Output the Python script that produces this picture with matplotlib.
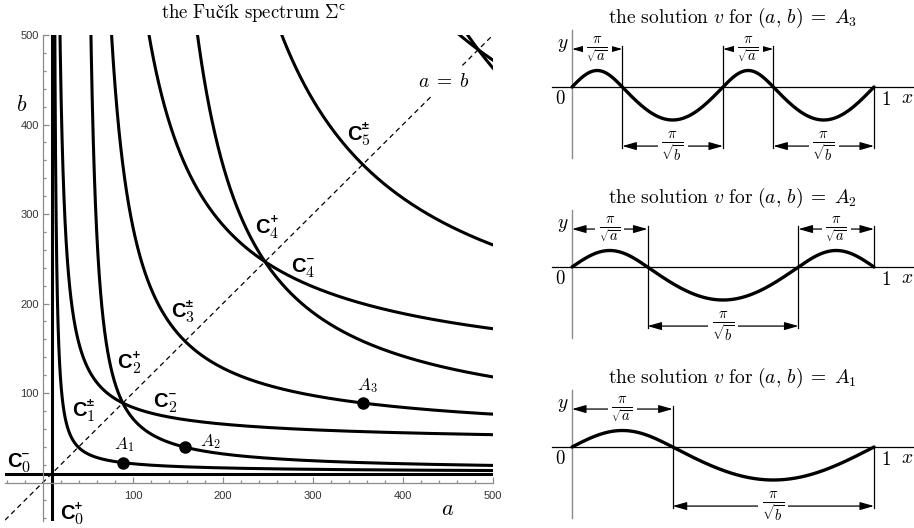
import numpy as np
import matplotlib
matplotlib.use("Agg")
import matplotlib.pyplot as plt
from matplotlib.ticker import FixedLocator

plt.rcParams["mathtext.fontset"] = "cm"

W, H = 914, 528

# Fučík curves  p·π/√a + q·π/√b = 1  (p positive humps, q negative humps)
CURVE_P = [1, 1, 2, 2, 2, 3, 3, 3, 4]
CURVE_Q = [1, 2, 1, 2, 3, 2, 3, 4, 3]
EIG1 = 9.87          # π², the lines C0+ (a = π²) and C0- (b = π²)

# marked points A1..A3 and how many +/- humps their solution has
POINT_NAMES = ["A_1", "A_2", "A_3"]
POINT_A = [88.83, 157.91, 355.31]
POINT_B = [22.21, 39.48, 88.83]
POINT_P = [1, 2, 2]
POINT_Q = [1, 1, 2]

# curve labels C_sub^sup placed at (a, b)
LABEL_SUB = ["0", "0", "1", "2", "2", "3", "4", "4", "5"]
LABEL_SUP = ["\u2212", "+", "\u00b1", "+", "\u2212", "\u00b1", "+", "\u2212", "\u00b1"]
LABEL_A = [-40, 19, 32, 83, 123, 142, 236, 276, 338]
LABEL_B = [17, -41, 74, 128, 84, 185, 279, 235, 383]

X_MAJOR = [100, 200, 300, 400, 500]
Y_MAJOR = [100, 200, 300, 400, 500]


def px_box(x0, y0, x1, y1):
    return [x0 / W, 1 - y1 / H, (x1 - x0) / W, (y1 - y0) / H]


def curve_label(ax, a, b, sub, sup):
    ax.text(a, b, "C", fontsize=14.5, fontweight="bold", family="Liberation Sans",
            ha="left", va="baseline")
    ax.annotate(f"${sub}$", (a, b), xytext=(10.2, -3.5), textcoords="offset points",
                fontsize=11.5, ha="left", va="baseline")
    ax.annotate(sup, (a, b), xytext=(10.2, 7.5), textcoords="offset points",
                fontsize=7.5, fontweight="bold", family="DejaVu Sans",
                ha="left", va="baseline")


fig = plt.figure(figsize=(W / 100, H / 100), dpi=100)

# ---- left: the spectrum ------------------------------------------------------
ax = fig.add_axes(px_box(5, 35, 493, 521))
ax.set_xlim(-42, 500)
ax.set_ylim(-43, 500)
for s in ("top", "right"):
    ax.spines[s].set_visible(False)
for s in ("left", "bottom"):
    ax.spines[s].set_position(("data", 0))
    ax.spines[s].set_color("#8c8c8c")
    ax.spines[s].set_linewidth(0.9)
minor = [v for v in range(-40, 501, 20) if v % 100 != 0]
ax.xaxis.set_major_locator(FixedLocator(X_MAJOR))
ax.yaxis.set_major_locator(FixedLocator(Y_MAJOR))
ax.xaxis.set_minor_locator(FixedLocator(minor))
ax.yaxis.set_minor_locator(FixedLocator(minor))
ax.tick_params(which="both", direction="in", color="#8c8c8c", width=0.9,
               labelsize=8, labelcolor="#333333")
ax.tick_params(which="major", length=4.5)
ax.tick_params(which="minor", length=2.5)
ax.tick_params(axis="x", pad=6)
ax.tick_params(axis="y", pad=3)
for lab in ax.get_xticklabels() + ax.get_yticklabels():
    lab.set_family("Liberation Sans")

ax.axvline(EIG1, color="k", lw=2.2)
ax.axhline(EIG1, color="k", lw=2.2)

lim = 560.0
for p, q in zip(CURVE_P, CURVE_Q):
    t = np.linspace(p * np.pi / np.sqrt(lim), 1 - q * np.pi / np.sqrt(lim), 4000)
    ax.plot((p * np.pi / t) ** 2, (q * np.pi / (1 - t)) ** 2, color="k", lw=2.2,
            solid_capstyle="butt")

# the diagonal a = b, broken around its label
for seg in ((-42, 432), (466, 500)):
    ax.plot(seg, seg, color="k", lw=0.9, ls=(0, (4, 3)))
ax.text(445, 448, r"$a\;=\;b$", fontsize=14, ha="center", va="center")

ax.plot(POINT_A, POINT_B, "o", color="k", ms=8)
offsets = [((1, 6), "center", "bottom"), ((11, 1), "left", "baseline"),
           ((3, 6), "center", "bottom")]
for name, a, b, (off, ha, va) in zip(POINT_NAMES, POINT_A, POINT_B, offsets):
    ax.annotate(f"${name}$", (a, b), xytext=off, textcoords="offset points",
                fontsize=12.5, ha=ha, va=va)

for sub, sup, a, b in zip(LABEL_SUB, LABEL_SUP, LABEL_A, LABEL_B):
    curve_label(ax, a, b, sub, sup)

ax.text(450, -30, "$a$", fontsize=16, ha="center", va="center")
ax.text(-23, 422, "$b$", fontsize=16, ha="center", va="center")

fig.text(254 / W, 1 - 13 / H, r"$\mathrm{the\ Fučík\ spectrum}\ \Sigma^{\mathsf{c}}$",
         fontsize=13.5, ha="center", va="center")

# ---- right: the solutions v for A3, A2, A1 ------------------------------------
X0, X1 = 572, 874           # pixel columns of x = 0 and x = 1
YU = 33.0                   # pixels per unit of the normalised solution
TOP, BOT = 1.15, -1.79      # arrow rows above / below the x axis
axis_rows = [447, 267, 87]  # pixel row of the x axis for A1, A2, A3

for k in range(3):
    a, b = POINT_A[k], POINT_B[k]
    p, q = POINT_P[k], POINT_Q[k]
    row = axis_rows[k]
    pax = fig.add_axes(px_box(545, row - 75, W, row + 75))
    pax.set_xlim(-(X0 - 545) / (X1 - X0), (W - X0) / (X1 - X0))
    pax.set_ylim(-75 / YU, 75 / YU)
    pax.axis("off")

    lp, ln = np.pi / np.sqrt(a), np.pi / np.sqrt(b)
    scale = np.sqrt(b)       # so the negative humps reach -1
    signs = [1 if i % 2 == 0 else -1 for i in range(p + q)]
    bounds = [0.0]
    for sg in signs:
        bounds.append(bounds[-1] + (lp if sg > 0 else ln))

    pax.plot([-0.066, 1.2], [0, 0], color="k", lw=0.9)
    pax.plot([0, 0], [1.73, -2.15], color="#8c8c8c", lw=1.0)

    xs, ys = [], []
    for sg, x0, x1 in zip(signs, bounds[:-1], bounds[1:]):
        xx = np.linspace(x0, x1, 200)
        w = np.sqrt(a) if sg > 0 else np.sqrt(b)
        xs.append(xx)
        ys.append(sg * np.sin(w * (xx - x0)) / w * scale)
    pax.plot(np.concatenate(xs), np.concatenate(ys), color="k", lw=2.4,
             solid_capstyle="round")

    # vertical markers at each node, reaching the arrow rows of adjacent humps
    for i in range(1, len(bounds)):
        nb = [signs[j] for j in (i - 1, i) if 0 <= j < len(signs)]
        y_hi = TOP + 0.09 if 1 in nb else 0
        y_lo = BOT - 0.06 if -1 in nb else 0
        pax.plot([bounds[i], bounds[i]], [y_lo, y_hi], color="k", lw=0.9)

    for sg, x0, x1 in zip(signs, bounds[:-1], bounds[1:]):
        yr = TOP if sg > 0 else BOT
        pax.annotate("", xy=(x1, yr), xytext=(x0, yr),
                     arrowprops=dict(arrowstyle="<|-|>,head_length=0.7,head_width=0.2",
                                     color="k", lw=0.9, shrinkA=0, shrinkB=0,
                                     mutation_scale=12))
        lab = r"$\frac{\pi}{\sqrt{a}}$" if sg > 0 else r"$\frac{\pi}{\sqrt{b}}$"
        pax.text((x0 + x1) / 2, yr, lab, fontsize=15, ha="center", va="center",
                 bbox=dict(fc="white", ec="none", pad=2.5))

    pax.text(-0.031, 1.30, "$y$", fontsize=14, ha="center", va="center")
    pax.text(-0.040, -0.36, "$0$", fontsize=13.5, ha="center", va="center")
    pax.text(1.041, -0.38, "$1$", fontsize=13.5, ha="center", va="center")
    pax.text(1.109, -0.33, "$x$", fontsize=14, ha="center", va="center")
    pax.text(0.53, 69 / YU,
             rf"$\mathrm{{the\ solution}}\ v\ \mathrm{{for}}\ (a,\,b)\;=\;A_{k + 1}$",
             fontsize=14, ha="center", va="center")

fig.savefig("out.png", dpi=100)
